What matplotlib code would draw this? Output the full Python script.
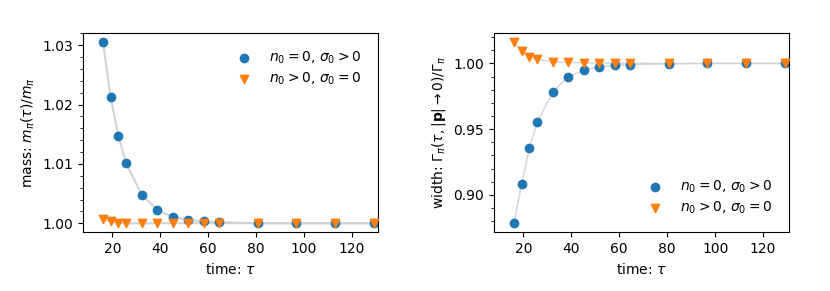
import matplotlib
matplotlib.use("Agg")
import matplotlib.pyplot as plt
from matplotlib.ticker import AutoMinorLocator, MultipleLocator, FormatStrFormatter

# time points
tau = [16.13, 19.35, 22.58, 25.8, 32.26, 38.7, 45.16, 51.6, 58.06, 64.5,
       80.6, 96.8, 112.9, 129.0]

# mass ratio
mass_sigma = [1.0305, 1.0212, 1.0147, 1.0101, 1.0048, 1.0023, 1.0011, 1.0006,
              1.0003, 1.0002, 1.0000, 1.0000, 1.0000, 1.0000]
mass_n = [1.0008, 1.0003, 1.0001, 1.0000, 1.0000, 1.0000, 1.0000, 1.0000,
          1.0000, 1.0000, 1.0000, 1.0000, 1.0000, 1.0000]

# width ratio
width_sigma = [0.8783, 0.9084, 0.9357, 0.9551, 0.9783, 0.9898, 0.9949, 0.9974,
               0.9985, 0.9992, 0.9997, 1.0000, 1.0000, 1.0000]
width_n = [1.0161, 1.0092, 1.0048, 1.0031, 1.0013, 1.0008, 1.0005, 1.0003,
           1.0002, 1.0001, 1.0000, 1.0000, 1.0000, 1.0000]

lab_sigma = r"$n_0 = 0$, $\sigma_0 > 0$"
lab_n = r"$n_0 > 0$, $\sigma_0 = 0$"

fig = plt.figure(figsize=(8.3, 2.91), dpi=100)
ax1 = fig.add_axes([0.100, 0.2017, 0.3554, 0.684])
ax2 = fig.add_axes([0.5952, 0.2017, 0.3554, 0.684])

# left: mass
ax1.plot(tau, mass_sigma, color="lightgray", lw=1.5, zorder=1)
ax1.plot(tau, mass_n, color="lightgray", lw=1.5, zorder=1)
ax1.scatter(tau, mass_sigma, color="tab:blue", label=lab_sigma, zorder=2)
ax1.scatter(tau, mass_n, color="tab:orange", marker="v", label=lab_n, zorder=3)
ax1.set_xlabel(r"time: $\tau$")
ax1.set_ylabel(r"mass: $m_\pi(\tau)/m_\pi$")
ax1.set_xlim(7.8, 130.8)
ax1.yaxis.set_major_locator(MultipleLocator(0.01))
ax1.yaxis.set_major_formatter(FormatStrFormatter("%.2f"))
ax1.yaxis.set_minor_locator(AutoMinorLocator())
ax1.legend(loc="upper right", frameon=False, labelspacing=0.3, borderaxespad=0.8)

# right: width
ax2.plot(tau, width_sigma, color="lightgray", lw=1.0, zorder=1)
ax2.plot(tau, width_n, color="lightgray", lw=1.0, zorder=1)
ax2.scatter(tau, width_sigma, color="tab:blue", label=lab_sigma, zorder=2)
ax2.scatter(tau, width_n, color="tab:orange", marker="v", label=lab_n, zorder=3)
ax2.set_xlabel(r"time: $\tau$")
ax2.set_ylabel(r"width: $\Gamma_\pi(\tau, |\mathbf{p}| \to 0)/\Gamma_\pi$")
ax2.set_xlim(7.8, 130.8)
ax2.yaxis.set_major_locator(MultipleLocator(0.05))
ax2.yaxis.set_major_formatter(FormatStrFormatter("%.2f"))
ax2.yaxis.set_minor_locator(AutoMinorLocator())
ax2.legend(loc="lower right", frameon=False, labelspacing=0.3, borderaxespad=0.8)

fig.savefig("out.png", dpi=100)
